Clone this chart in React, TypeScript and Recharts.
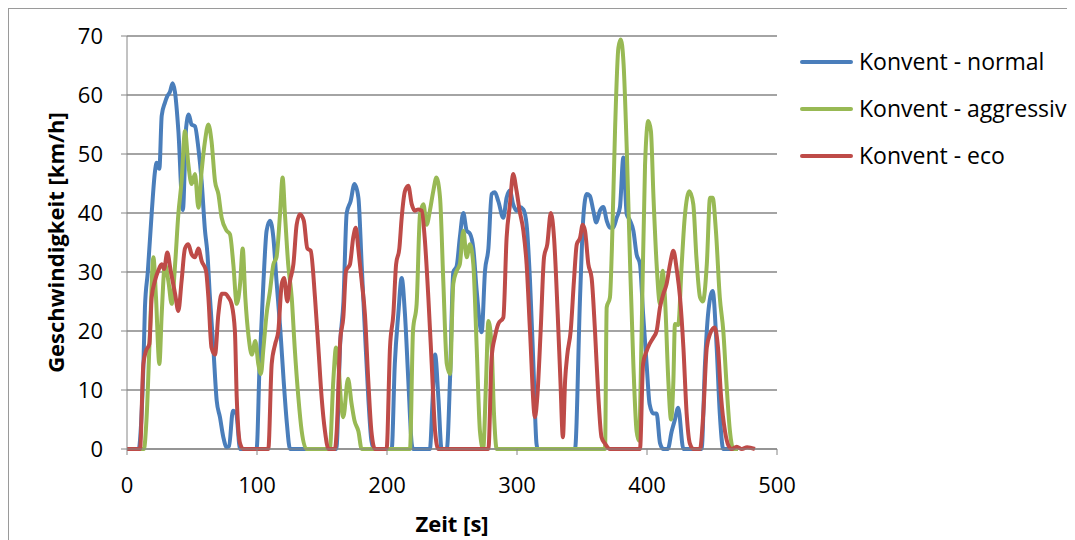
import React from 'react';
import { LineChart, Line, XAxis, YAxis, CartesianGrid, Label } from 'recharts';

// ---- data (time in s, speed in km/h) ----
const normalTime = [0, 9, 11, 12.6, 13.8, 16, 19, 21.5, 22.8, 24.9, 26.7, 29.2, 31, 33, 35.1, 36.9, 39.5, 43, 45.5, 47.5, 49.7, 52.3, 54.9, 57.4, 60, 61.8, 63.8, 66.4, 69, 71.5, 74.1, 76.7, 78.5, 81.5, 84, 87, 99.7, 102, 105, 107.4, 110, 112.6, 115, 118, 120.5, 123, 125.4, 161, 164, 166.5, 169, 172, 175, 178, 180.5, 183, 185.6, 188, 190, 203.6, 206, 208.7, 211.3, 213.8, 216.4, 219, 220, 233, 235, 237, 239.5, 242, 246, 248.5, 251, 253.6, 256, 258.7, 261.3, 263.8, 266.4, 269, 272.8, 275.4, 278, 280.5, 283, 285.6, 289.5, 292, 294.6, 297, 299.7, 302, 304.9, 307.4, 310, 312.6, 315, 316, 344.6, 348.5, 351, 353.6, 356, 358.7, 361, 363.8, 366.4, 369, 371.5, 374, 376.7, 379.2, 381.8, 384.4, 387, 389.5, 392, 394.6, 397, 399.7, 402, 404.9, 407.4, 410, 412.6, 416, 419, 421.5, 424, 428, 442, 444.6, 447, 450.5, 453.6, 456, 458.7, 470];
const normalSpeed = [0, 0, 5, 14, 24, 30, 40, 47, 48.5, 47.5, 56.5, 58.7, 59.8, 60.5, 62, 60.5, 54, 40.5, 54.5, 56.7, 55, 54.7, 51, 45.4, 37, 33.3, 25.7, 17.2, 8.2, 5.4, 2, 0.3, 0.5, 6.5, 6, 0, 0, 14.4, 28.5, 37, 38.7, 35.8, 28.5, 20, 11.6, 4.3, 0, 0, 18, 25, 40, 42, 44.9, 42.6, 31.3, 20, 8.8, 1.4, 0, 0, 14.4, 22.9, 29, 22.9, 11.6, 0.9, 0, 0, 8, 16, 8.8, 0, 0, 12, 30, 31, 35.8, 40, 37, 36.5, 34, 26.8, 19.8, 30.2, 34, 43.2, 43.5, 42, 39.2, 42.6, 43.8, 41.5, 40.4, 41, 40.6, 38, 28.5, 14.4, 0.9, 0, 0, 25.7, 39.2, 43.2, 42.9, 40.4, 38.4, 40.4, 41, 38.7, 37.5, 37.5, 39.2, 41, 49.4, 39.8, 38.7, 37, 33, 31.3, 22.9, 14.4, 7.6, 6, 6, 1, 0, 0, 3, 5, 7, 0, 0, 14.4, 22.9, 26.8, 17.2, 6, 0, 0];

const aggressiveTime = [0, 13, 15, 17.7, 20.3, 22.3, 24.9, 26.7, 29.2, 31.8, 34.4, 37, 39.5, 42, 44.6, 47.2, 49.7, 52.3, 54.9, 57.4, 60, 62.6, 65, 67.7, 70.3, 72.8, 76.7, 79.2, 81.8, 84.4, 87, 89, 91, 93.6, 96, 98.7, 101, 103, 105, 107.4, 110, 112.6, 115, 117.7, 119.7, 121.5, 124, 126.7, 129, 131.8, 134.4, 138, 156, 158.7, 160.8, 162.6, 165, 166.4, 170, 172.8, 175, 178, 180.5, 217.7, 220, 222.8, 225.4, 228, 230.5, 233, 235.6, 238, 240.8, 243.3, 246, 248.5, 251, 253.6, 256, 258.7, 261.3, 263.8, 266.4, 269, 271.5, 274, 276.2, 278, 280.5, 282.3, 284.4, 367.7, 369, 371.5, 373, 375.4, 378, 379.8, 382, 384.4, 387, 389.5, 392, 393.8, 395.9, 398.5, 401, 403, 405, 407.4, 410, 412, 413.8, 416.4, 418.5, 420.3, 421.5, 424, 426.7, 429, 432.6, 435.6, 438, 440.8, 443, 446, 448.5, 450.5, 453, 456, 458.7, 461, 463.8, 466.4, 470];
const aggressiveSpeed = [0, 0, 5, 20, 32.5, 25.7, 14.4, 22.9, 31.3, 28.5, 24.6, 31.3, 39.8, 45.4, 53.9, 48.2, 44.9, 46.6, 40.9, 47.1, 52.2, 55, 52.2, 45.4, 43.2, 39.2, 37, 36.4, 31.3, 24.6, 28, 34, 25.7, 18.9, 16, 18.3, 14.4, 12.7, 17.2, 22.9, 26.8, 31.3, 32.5, 39.8, 46, 39.8, 31.3, 25.7, 17.2, 8.8, 3, 0, 0, 11.6, 17.2, 14.4, 7, 5.4, 11.9, 7.6, 4.8, 3, 0, 0, 20, 24.6, 39.8, 41.5, 38, 40.4, 43.7, 46, 42.6, 28.5, 14.4, 12.7, 28, 30.2, 31.3, 37, 32.5, 34.7, 31.3, 17.2, 3, 0, 11.6, 21.7, 17.2, 6, 0, 0, 24, 25.7, 34, 53.9, 68, 69.4, 65.2, 51, 31.3, 14.4, 3, 1.4, 20, 48.2, 55.6, 53.9, 42.6, 31.3, 24.6, 30.2, 25.7, 11.6, 5, 11.6, 21.2, 21, 31.3, 39.2, 43.7, 41.5, 32.5, 25.7, 25, 31.3, 42.6, 42.6, 37, 25.7, 20, 11.6, 3, 0, 0];

const ecoTime = [0, 10, 12.6, 14.6, 17.2, 19, 21.5, 24, 26.7, 28.5, 31, 33.6, 37, 39.5, 42, 44.6, 47.2, 49.7, 52.3, 54.9, 57.4, 60.8, 62.6, 65, 67.7, 70.3, 72.8, 75.4, 78, 80.5, 83, 84.4, 87, 89.5, 108.7, 111.3, 114, 116.4, 119, 120.8, 123.3, 125.4, 128, 130.5, 133, 136, 138.7, 141.3, 144.6, 147.2, 149.7, 152.3, 155, 160, 161.3, 164, 166.4, 168.5, 171.5, 174, 176, 177.9, 180.5, 183, 185.6, 188, 190.8, 199.7, 202.3, 204.9, 207, 209.5, 211.3, 213.8, 216.4, 219, 221.5, 224, 226.7, 229, 231.8, 234.4, 237, 239.5, 278, 280.5, 283, 285.6, 289.5, 292, 294.6, 297, 299.7, 302, 304.9, 307.4, 310, 313.8, 315.6, 318.2, 320.8, 323.3, 326, 328.5, 331.3, 333.4, 335.3, 337, 338.7, 341.3, 343.8, 346, 348.5, 350.5, 352.3, 354.9, 357.4, 360, 362.6, 365, 367.7, 371.5, 394.6, 397, 399.7, 402, 404.9, 407.4, 410, 412.6, 415, 417.7, 420.3, 423, 425.4, 428, 430.5, 433, 435.6, 440.8, 443.3, 446, 448.5, 452, 454.6, 457, 460, 462.6, 465, 469, 473, 477, 483];
const ecoSpeed = [0, 0, 14.4, 16.6, 17.8, 25.7, 28.5, 30.2, 31.3, 30.5, 33.3, 30.2, 26.3, 23.4, 28.5, 34, 34.7, 33, 32.5, 34, 31.9, 30.2, 25.7, 17.2, 16, 22.9, 26.3, 26.3, 25.7, 24.5, 20, 8.8, 0.9, 0, 0, 14.4, 17.8, 20, 27.9, 29, 25, 28.5, 31.3, 38, 39.8, 38.7, 34, 33.6, 25.7, 17.2, 8.8, 3, 0, 0, 3, 18.3, 22.3, 30.2, 31.3, 35.8, 37.5, 34, 28.5, 22.9, 11.6, 3, 0, 0, 17.2, 22.9, 31.3, 34, 39.2, 43.7, 44.6, 41.5, 40.4, 40.6, 40.4, 35.8, 25.7, 14.4, 3, 0, 0, 15.5, 19, 21.2, 22.3, 35.8, 41.5, 46.6, 43.7, 40.4, 37, 31.3, 20, 5.4, 8.8, 20, 32.5, 34.7, 40, 35.8, 22.9, 11.6, 2, 11.6, 16, 20, 28.5, 34.7, 35.8, 38, 37, 31.3, 29, 20, 8.8, 2, 0.9, 0, 0, 14.4, 16.6, 17.8, 18.9, 20, 24, 26.3, 27.9, 31.3, 33.6, 30.2, 25.7, 17.2, 6, 0.9, 0, 0, 6, 17.2, 19.5, 20.6, 17.2, 8.8, 3, 0.6, 0, 0.4, 0, 0.3, 0];

const xTicks = [0, 100, 200, 300, 400, 500];
const yTicks = [0, 10, 20, 30, 40, 50, 60, 70];

const seriesNames = ['Konvent - normal', 'Konvent - aggressiv', 'Konvent - eco'];
const seriesColors = ['#4A7EBB', '#98B954', '#BE4B48'];

const zip = (ts: number[], vs: number[]) => ts.map((t, i) => ({ t, v: vs[i] }));
const normalData = zip(normalTime, normalSpeed);
const aggressiveData = zip(aggressiveTime, aggressiveSpeed);
const ecoData = zip(ecoTime, ecoSpeed);
const seriesData = [normalData, aggressiveData, ecoData];

const FONT = '"Open Sans", sans-serif';

export default function App() {
  return (
    <div style={{ width: 1060, height: 540, border: '1px solid #9a9a9a', position: 'relative', background: '#fff' }}>
      <LineChart width={1060} height={540} margin={{ top: 27, right: 292, bottom: 40, left: 0 }}>
        <CartesianGrid vertical={false} stroke="#868686" strokeWidth={1.5} />
        <XAxis
          type="number"
          dataKey="t"
          domain={[0, 500]}
          ticks={xTicks}
          height={60}
          stroke="#868686"
          tickSize={6}
          tickMargin={22}
          tick={{ fill: '#000', fontSize: 22, fontFamily: FONT }}
          allowDataOverflow
        >
          <Label value="Zeit [s]" position="bottom" offset={7} fontSize={22} fontWeight={700} fill="#000" fontFamily={FONT} />
        </XAxis>
        <YAxis
          type="number"
          domain={[0, 70]}
          ticks={yTicks}
          width={118}
          stroke="#868686"
          tickSize={6}
          tickMargin={18}
          tick={{ fill: '#000', fontSize: 22, fontFamily: FONT }}
        >
          <Label value="Geschwindigkeit [km/h]" angle={-90} position="center" dx={-12} fontSize={22} fontWeight={700} fill="#000" fontFamily={FONT} />
        </YAxis>
        {seriesData.map((d, i) => (
          <Line
            key={seriesNames[i]}
            data={d}
            dataKey="v"
            name={seriesNames[i]}
            type="monotone"
            stroke={seriesColors[i]}
            strokeWidth={4}
            dot={false}
            activeDot={false}
            isAnimationActive={false}
            strokeLinejoin="round"
          />
        ))}
      </LineChart>
      <div style={{ position: 'absolute', left: 791, top: 29, fontFamily: FONT }}>
        {seriesNames.map((name, i) => (
          <div key={name} style={{ display: 'flex', alignItems: 'center', height: 47 }}>
            <div style={{ width: 53, height: 4, borderRadius: 2, background: seriesColors[i], marginRight: 6 }} />
            <span style={{ fontSize: 23, color: '#000', whiteSpace: 'nowrap', lineHeight: '47px' }}>{name}</span>
          </div>
        ))}
      </div>
    </div>
  );
}
